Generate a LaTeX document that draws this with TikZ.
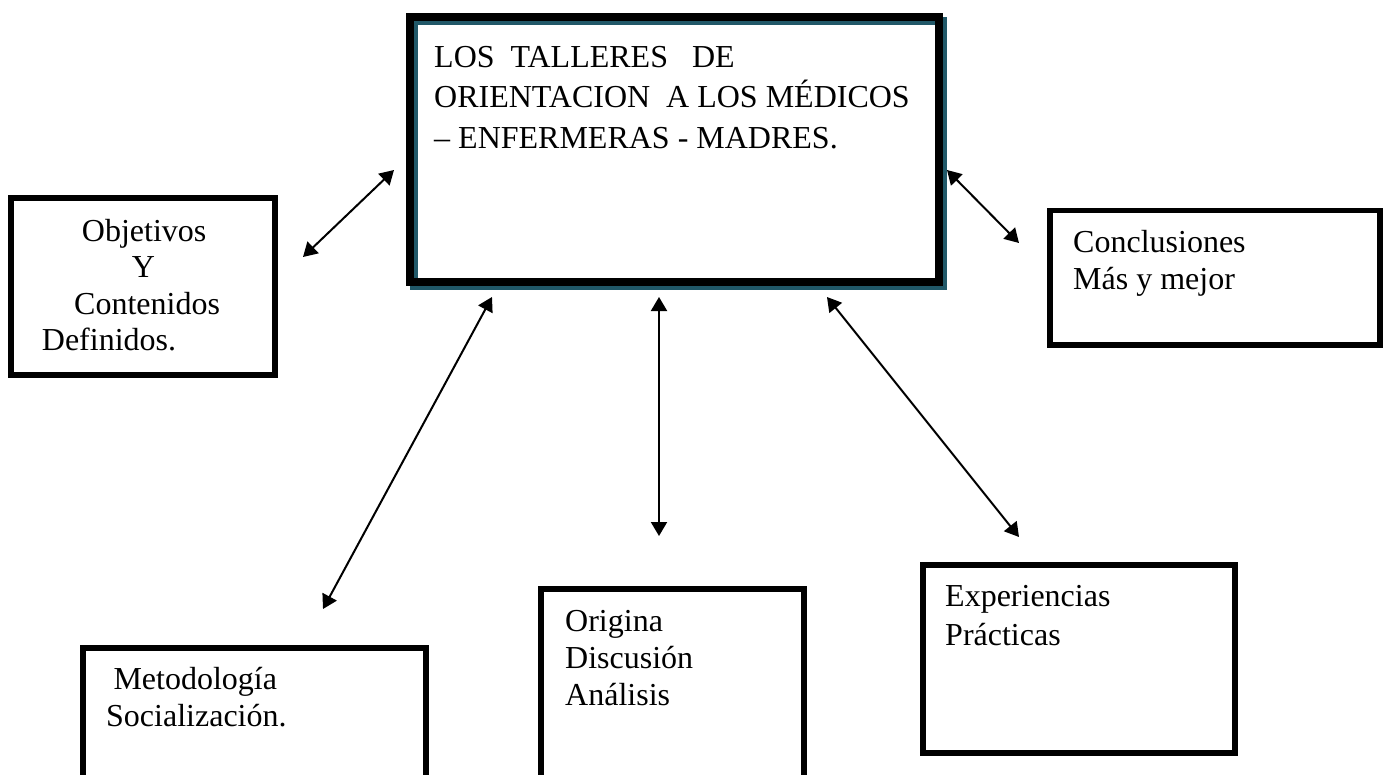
\documentclass[tikz,border=0pt]{standalone}
\usepackage{fontspec}
\setmainfont{Liberation Serif}
\usetikzlibrary{arrows.meta}
\definecolor{shadowteal}{RGB}{33,88,104}
\begin{document}
\begin{tikzpicture}[x=1pt,y=-1pt,
  box/.style={draw=black, rectangle, inner sep=0pt, outer sep=0pt, line width=6pt},
  mainbox/.style={draw=black, rectangle, inner sep=0pt, outer sep=0pt, line width=8.5pt},
  shadowframe/.style={draw=shadowteal, line width=8.5pt},
  txt/.style={anchor=base west, inner sep=0pt, font=\fontsize{32}{36.8}\selectfont},
  link/.style={line width=2pt, {Triangle[length=14pt,width=16pt]}-{Triangle[length=14pt,width=16pt]}}]
\useasboundingbox (0,0) rectangle (1389,774);

% main box with teal shadow
\draw[shadowframe] (414,21) rectangle (943,286);
\node[mainbox, minimum width=529pt, minimum height=265pt] (main) at (674.5,149.5) {};
\node[txt] (m1) at (434,67) {LOS~~TALLERES~~~DE};
\node[txt] (m2) at (434,107) {ORIENTACION~~A LOS MÉDICOS};
\node[txt] (m3) at (434,148) {– ENFERMERAS - MADRES.};

% Objetivos
\node[box, minimum width=263.5pt, minimum height=176.5pt] (obj) at (142.75,286.25) {};
\node[txt] (o1) at (81.7,241) {Objetivos};
\node[txt] (o2) at (131.7,277.5) {Y};
\node[txt] (o3) at (74,314) {Contenidos};
\node[txt] (o4) at (41.7,350.5) {Definidos.};

% Conclusiones
\node[box, line width=5.5pt, minimum width=330pt, minimum height=134.5pt] (con) at (1215,277.75) {};
\node[txt] (c1) at (1073,252) {Conclusiones};
\node[txt] (c2) at (1073,289) {Más y mejor};

% Metodologia
\node[box, minimum width=342.5pt, minimum height=202pt] (met) at (254.25,749) {};
\node[txt] (t1) at (113.3,689) {Metodología};
\node[txt] (t2) at (106,726.5) {Socialización.};

% Origina
\node[box, minimum width=263pt, minimum height=261pt] (ori) at (672.5,719.5) {};
\node[txt] (r1) at (565,631) {Origina};
\node[txt] (r2) at (565,668) {Discusión};
\node[txt] (r3) at (565,705) {Análisis};

% Experiencias
\node[box, minimum width=312pt, minimum height=188pt] (exp) at (1079,659) {};
\node[txt] (e1) at (945,606.5) {Experiencias};
\node[txt] (e2) at (945,645) {Prácticas};

% arrow end points
\coordinate (aoT) at (394,170);
\coordinate (aoB) at (303,257);
\coordinate (acT) at (947,170);
\coordinate (acB) at (1019,243);
\coordinate (amT) at (492,297);
\coordinate (amB) at (323,609);
\coordinate (arT) at (659,297);
\coordinate (arB) at (659,536);
\coordinate (aeT) at (827,297);
\coordinate (aeB) at (1019,537);

\draw[link] (aoB) -- (aoT);
\draw[link] (acT) -- (acB);
\draw[link] (amB) -- (amT);
\draw[link] (arB) -- (arT);
\draw[link] (aeB) -- (aeT);
\end{tikzpicture}
\end{document}
